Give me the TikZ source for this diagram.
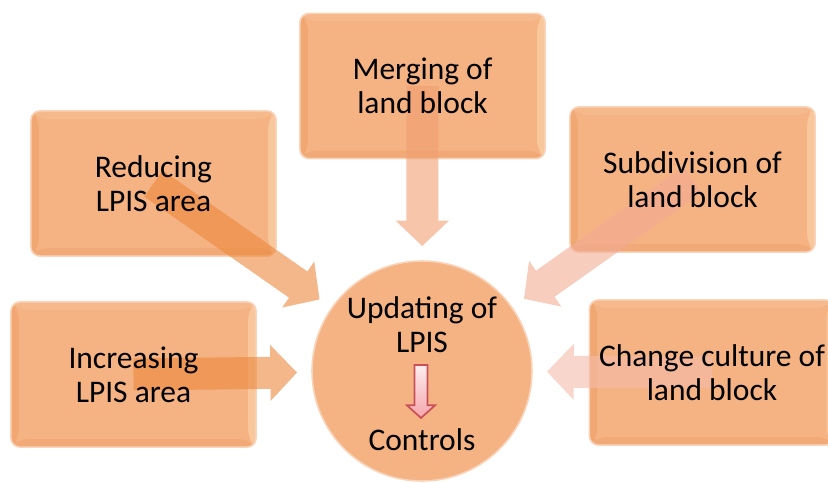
\documentclass[tikz,border=0pt]{standalone}
\usepackage{fontspec}
\setmainfont{Carlito}
\usetikzlibrary{calc}

% palette
\definecolor{face}{RGB}{245,178,131}
\definecolor{bvtop}{RGB}{246,185,139}
\definecolor{bvleft}{RGB}{240,167,114}
\definecolor{bvbottom}{RGB}{241,170,119}
\definecolor{bvright}{RGB}{249,199,156}
\definecolor{rim}{RGB}{249,212,186}
\definecolor{arrOrange}{RGB}{235,135,60}
\definecolor{arrPeach}{RGB}{240,158,113}
\definecolor{arrPink}{RGB}{242,171,146}
\definecolor{arrRose}{RGB}{245,187,170}
\definecolor{dnTop}{RGB}{253,236,238}
\definecolor{dnBottom}{RGB}{245,166,172}
\definecolor{dnEdge}{RGB}{200,80,88}

% disc face: flat centre, slightly darker band at the edge, light rim
\pgfdeclareradialshading{hubface}{\pgfpoint{0bp}{0bp}}{%
  rgb(0bp)=(0.962,0.700,0.515);
  rgb(38bp)=(0.960,0.695,0.508);
  rgb(47bp)=(0.940,0.640,0.440);
  rgb(50bp)=(0.965,0.740,0.570)}

\newcommand\diagfont{\fontsize{23.6pt}{25.5pt}\selectfont}

% block arrow: #1 style, #2 tail, #3 tip, #4 shaft half width,
% #5 head half width, #6 head length
\newcommand\blockarrow[6]{%
  \coordinate (ba-h) at ($(#3)!#6!(#2)$);
  \path[#1]
    ($(#2)!#4!90:(#3)$) -- ($(ba-h)!#4!90:(#3)$) --
    ($(ba-h)!#5!90:(#3)$) -- (#3) -- ($(ba-h)!#5!-90:(#3)$) --
    ($(ba-h)!#4!-90:(#3)$) -- ($(#2)!#4!-90:(#3)$) -- cycle;}

\tikzset{
  panel/.style={rounded corners=7pt, minimum width=184pt, minimum height=109pt,
    fill=face, draw=rim, line width=1.2pt,
    path picture={
      \path (path picture bounding box.north west) coordinate (pnw)
            (path picture bounding box.north east) coordinate (pne)
            (path picture bounding box.south west) coordinate (psw)
            (path picture bounding box.south east) coordinate (pse);
      \fill[bvtop] (pnw) -- (pne) -- ([shift={(-6pt,-6pt)}]pne) -- ([shift={(6pt,-6pt)}]pnw) -- cycle;
      \fill[bvleft] (pnw) -- (psw) -- ([shift={(6pt,6pt)}]psw) -- ([shift={(6pt,-6pt)}]pnw) -- cycle;
      \fill[bvbottom] (psw) -- (pse) -- ([shift={(-6pt,6pt)}]pse) -- ([shift={(6pt,6pt)}]psw) -- cycle;
      \fill[bvright] (pne) -- (pse) -- ([shift={(-6pt,6pt)}]pse) -- ([shift={(-6pt,-6pt)}]pne) -- cycle;
    }},
  label text/.style={align=center, font=\diagfont, inner sep=0pt},
  hubdisc/.style={circle, minimum size=165pt, inner sep=0pt, shading=hubface,
    draw=rim, line width=1.2pt},
  feed/.style={fill=#1, opacity=0.6},
  inner arrow/.style={top color=dnTop, bottom color=dnBottom, draw=dnEdge,
    line width=1.3pt, line join=miter}
}

\begin{document}
\begin{tikzpicture}[x=0.75pt, y=-0.75pt]
\useasboundingbox (0,0) rectangle (828,482);

% outer panels
\node[panel] (merge)  at (422.5, 86)  {};
\node[panel] (reduce) at (153.5,183.5) {};
\node[panel] (subdiv) at (692.5,179.5) {};
\node[panel] (incr)   at (133.5,374.5) {};
\node[panel] (change) at (712,  372.5) {};

% central disc
\node[hubdisc] (hub) at (422,371) {};

% arrow tips, all at the same distance from the disc centre
\foreach \b in {merge,reduce,subdiv,incr,change}
  \coordinate (tip-\b) at ($(hub.center)!93.75pt!(\b.center)$);

% feeding arrows from every panel into the disc
\blockarrow{feed=arrPeach}{merge.center}{tip-merge}{12pt}{20pt}{19pt}
\blockarrow{feed=arrOrange}{reduce.center}{tip-reduce}{12pt}{21pt}{19.5pt}
\blockarrow{feed=arrPink}{subdiv.center}{tip-subdiv}{12pt}{21pt}{19.5pt}
\blockarrow{feed=arrOrange}{incr.center}{tip-incr}{12pt}{21pt}{20pt}
\blockarrow{feed=arrRose}{change.center}{tip-change}{12pt}{21pt}{20pt}

% panel texts
\node[label text] at (merge)  {Merging of\\land block};
\node[label text] at (reduce) {Reducing\\LPIS area};
\node[label text] at (subdiv) {Subdivision of\\land block};
\node[label text] at (incr)   {Increasing\\LPIS area};
\node[label text] at (change) {Change culture of\\land block};

% disc contents
\node[label text] (upd) at (422,325) {Updating of\\LPIS};
\node[label text] (ctl) at (422,440) {Controls};
\coordinate (dn-top) at (421,365);
\coordinate (dn-tip) at (421,418);
\blockarrow{inner arrow}{dn-top}{dn-tip}{4.8pt}{10.5pt}{9.5pt}
\end{tikzpicture}
\end{document}
